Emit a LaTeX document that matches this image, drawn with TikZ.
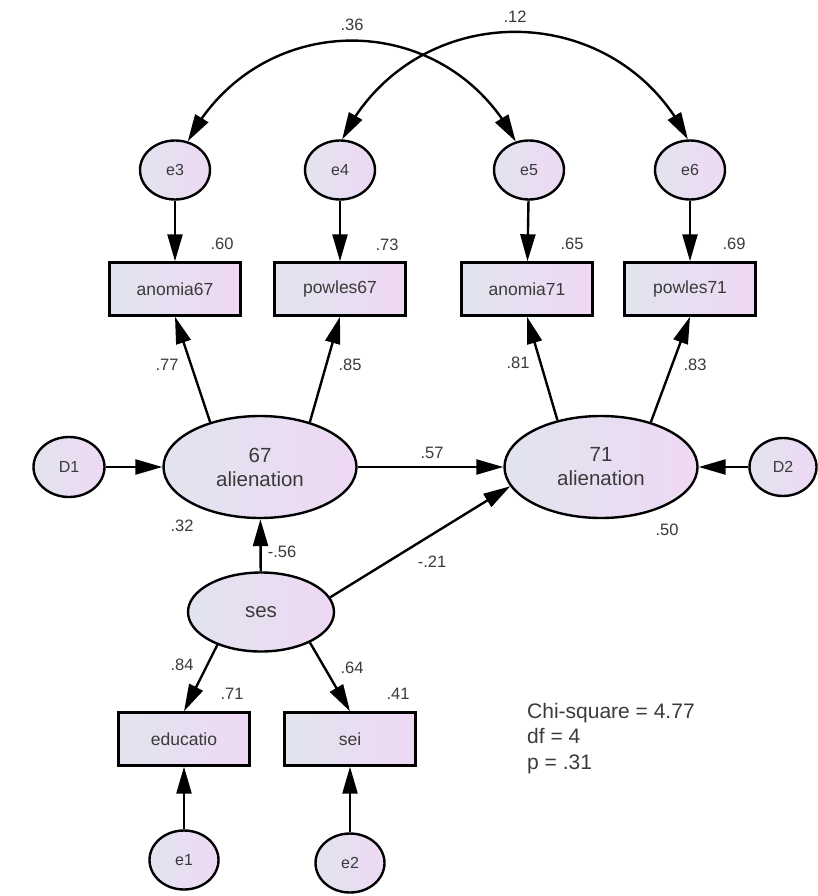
\documentclass[tikz,border=0pt]{standalone}
\usepackage{fontspec}
\setmainfont{Liberation Sans}
\usetikzlibrary{arrows.meta,bending,shapes.geometric}
\definecolor{shadeL}{HTML}{E1E4EE}
\definecolor{shadeR}{HTML}{EFD8F4}
\definecolor{ink}{HTML}{3A3A3A}

\begin{document}
\begin{tikzpicture}[x=1pt,y=-1pt,
  line width=2.4pt,
  bigtri/.tip={Triangle[length=27pt,width=15pt]},
  shaded/.style={draw, inner sep=0pt, left color=shadeL, right color=shadeR, text=ink},
  obs/.style={shaded, rectangle, minimum width=131pt, minimum height=53pt,
    font=\fontsize{17.5}{20}\selectfont},
  err/.style={shaded, ellipse, minimum width=70pt, minimum height=59pt,
    font=\fontsize{16}{18}\selectfont},
  lat/.style={shaded, ellipse, minimum width=193pt, minimum height=102pt,
    align=center, font=\fontsize{20.5}{24}\selectfont},
  coef/.style={text=ink, inner sep=0pt, font=\fontsize{16.5}{18}\selectfont},
  reg/.style={-bigtri},
  covar/.style={bigtri-bigtri},
]
\useasboundingbox (0,0) rectangle (817,896);

% error terms of the alienation indicators
\node[err] (e3) at (175,170) {e3};
\node[err] (e4) at (340,170) {e4};
\node[err] (e5) at (529,170) {e5};
\node[err] (e6) at (690,170) {e6};

% observed indicators
\node[obs] (anomia67) at (175,289) {anomia67};
\node[obs] (powles67) at (340,289) {powles67};
\node[obs] (anomia71) at (527,289) {anomia71};
\node[obs] (powles71) at (690,289) {powles71};

% latent variables and disturbances
\node[lat] (alien67) at (260,467) {67\\alienation};
\node[lat] (alien71) at (601,467) {71\\alienation};
\node[err, minimum width=71pt, minimum height=60pt] (D1) at (69,467) {D1};
\node[err, minimum width=67pt, minimum height=58pt] (D2) at (783,467) {D2};
\node[shaded, ellipse, minimum width=146pt, minimum height=79pt,
  font=\fontsize{20.5}{24}\selectfont] (ses) at (261,612) {ses};

% ses indicators
\node[obs] (educatio) at (184,739) {educatio};
\node[obs] (sei) at (350,739) {sei};
\node[err, minimum width=69pt] (e1) at (184,860) {e1};
\node[err, minimum width=69pt] (e2) at (350,863) {e2};

% error covariances
\draw[covar] (e3.66) .. controls (258,7) and (446,7) .. (e5.115);
\draw[covar] (e4.86) .. controls (413,-4) and (617,-4) .. (e6.94);

% measurement paths
\draw[reg] (e3) -- (anomia67);
\draw[reg] (e4) -- (powles67);
\draw[reg] (e5) -- (anomia71);
\draw[reg] (e6) -- (powles71);
\draw[reg] (alien67.138) -- (anomia67.south);
\draw[reg] (alien67.42) -- (powles67.south);
\draw[reg] (alien71.133) -- (anomia71.south);
\draw[reg] (alien71.42) -- (powles71.south);

% structural paths
\draw[reg] (D1) -- (alien67);
\draw[reg] (D2) -- (alien71);
\draw[reg] (alien67) -- (alien71);
\draw[reg] (ses) -- (alien67);
\draw[reg] (ses.12) -- (alien71.192);
\draw[reg] (ses.217) -- (educatio.north);
\draw[reg] (ses.328) -- (sei.north);
\draw[reg] (e1) -- (educatio);
\draw[reg] (e2) -- (sei);

% estimates
\node[coef] (c36) at (352,25) {.36};
\node[coef] (c12) at (515,17) {.12};
\node[coef] (r60) at (222,244) {.60};
\node[coef] (r73) at (387,245) {.73};
\node[coef] (r65) at (572,244) {.65};
\node[coef] (r69) at (734,244) {.69};
\node[coef] (l77) at (167,365) {.77};
\node[coef] (l85) at (350,365) {.85};
\node[coef] (l81) at (518,363) {.81};
\node[coef] (l83) at (695,365) {.83};
\node[coef] (b57) at (432,453) {.57};
\node[coef] (r32) at (182,526) {.32};
\node[coef] (r50) at (667,530) {.50};
\node[coef] (b56) at (282,552) {-.56};
\node[coef] (b21) at (432,562) {-.21};
\node[coef] (l84) at (182,665) {.84};
\node[coef] (l64) at (352,668) {.64};
\node[coef] (r71) at (232,694) {.71};
\node[coef] (r41) at (398,694) {.41};

% fit summary
\node[text=ink, inner sep=0pt, anchor=north west, align=left,
  font=\fontsize{21}{25.5}\selectfont] (fit) at (526,702)
  {Chi-square = 4.77\\df = 4\\p = .31};
\end{tikzpicture}
\end{document}
